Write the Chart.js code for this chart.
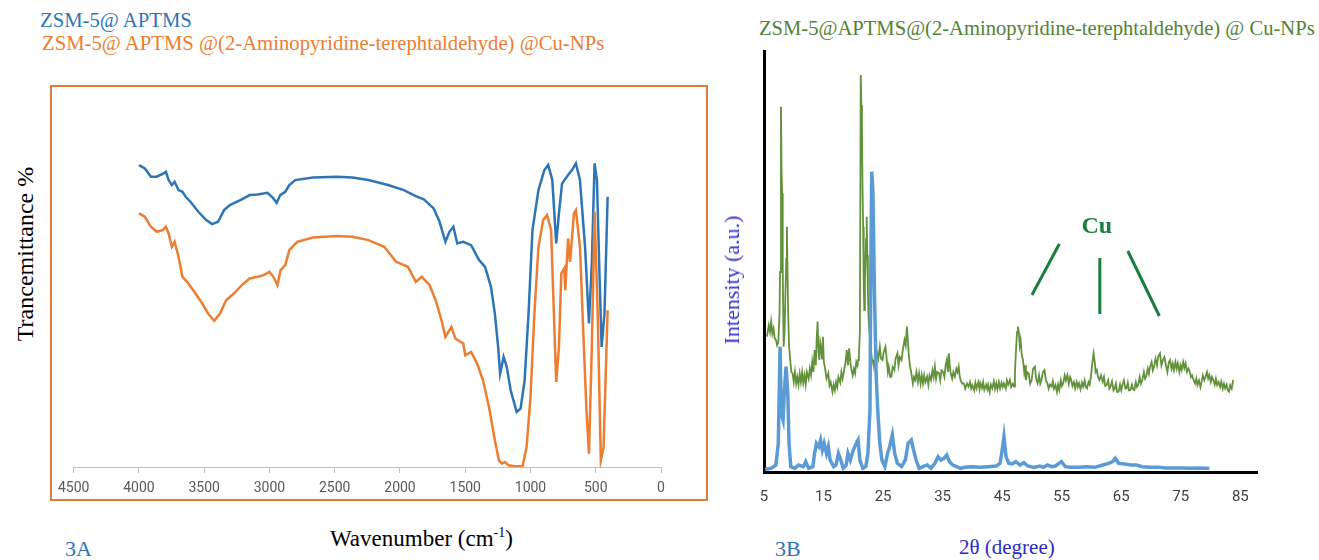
<!DOCTYPE html>
<html>
<head>
<meta charset="utf-8">
<script src="https://cdn.jsdelivr.net/npm/chart.js@4/dist/chart.umd.min.js"></script>
<style>
  body { margin: 0; width: 1319px; height: 560px; background: #fff; position: relative; overflow: hidden; font-family: 'Liberation Serif', 'Times New Roman', serif; }
  .t { position: absolute; white-space: nowrap; line-height: 1; }
  .rot { transform: translate(-50%, -50%) rotate(-90deg); }
  #boxA { position: absolute; left: 50px; top: 85px; width: 658px; height: 416px; border: 2px solid #E07B39; box-sizing: border-box; }
  canvas { position: absolute; }
</style>
</head>
<body>
<div id="boxA"></div>
<canvas id="ir" width="656" height="414" style="left:51px;top:86px"></canvas>
<canvas id="xrd" width="579" height="480" style="left:740px;top:40px"></canvas>

<div class="t" style="left:40px;top:10px;font-size:20.7px;color:#2E75B6">ZSM-5@ APTMS</div>
<div class="t" style="left:42px;top:33px;font-size:20.7px;color:#ED7D31">ZSM-5@ APTMS @(2-Aminopyridine-terephtaldehyde) @Cu-NPs</div>
<div class="t rot" style="left:25px;top:254px;font-size:24px;color:#000">Trancemittance %</div>
<div class="t" style="left:330px;top:526px;font-size:23px;color:#000">Wavenumber (cm<sup style="font-size:14px">-1</sup>)</div>
<div class="t" style="left:65px;top:538px;font-size:22px;color:#2E75B6">3A</div>

<div class="t" style="left:759px;top:18px;font-size:20.6px;color:#548235">ZSM-5@APTMS@(2-Aminopyridine-terephtaldehyde) @ Cu-NPs</div>
<div class="t rot" style="left:732px;top:280px;font-size:22px;color:#3333CC">Intensity (a.u.)</div>
<div class="t" style="left:959px;top:537px;font-size:21px;color:#2B2BC4">2θ (degree)</div>
<div class="t" style="left:775px;top:538px;font-size:22px;color:#2E75B6">3B</div>

<script>
// 3A  FT-IR, wavenumber (cm-1) and transmittance (arbitrary %)
const wnBlue = [4000, 3955, 3909, 3864, 3812, 3794, 3773, 3748, 3727, 3697, 3667, 3642, 3606, 3545, 3485, 3439, 3394, 3348, 3303, 3212,
  3152, 3091, 3015, 2970, 2945, 2918, 2879, 2848, 2803, 2667, 2485, 2364, 2242, 2091, 1970, 1879, 1818, 1742, 1697, 1652,
  1621, 1591, 1561, 1515, 1455, 1394, 1348, 1303, 1273, 1248, 1233, 1206, 1182, 1152, 1106, 1076, 1045, 1015, 985, 939,
  894, 864, 833, 803, 782, 758, 712, 682, 652, 621, 582, 552, 530, 509, 491, 470, 455, 433, 409];
const tBlue = [90.5, 89.5, 87.0, 87.0, 88.0, 88.5, 86.0, 84.5, 85.5, 83.0, 82.5, 81.0, 79.5, 76.5, 74.0, 72.8, 73.5, 77.0, 78.5, 80.2,
  81.5, 81.7, 82.2, 80.5, 79.2, 81.5, 82.5, 84.5, 86.0, 86.8, 87.0, 86.8, 86.0, 84.5, 83.0, 81.2, 80.2, 77.5, 73.5, 67.5,
  70.5, 72.0, 67.0, 67.5, 66.5, 62.0, 60.0, 54.0, 46.0, 36.0, 28.0, 33.0, 30.0, 23.0, 16.5, 17.5, 26.0, 46.0, 71.0, 83.0,
  89.0, 90.5, 86.0, 67.0, 76.0, 85.0, 87.5, 89.0, 91.0, 86.0, 66.0, 43.0, 61.0, 91.0, 86.0, 56.0, 36.0, 46.0, 81.0];

const wnOrange = [4000, 3955, 3909, 3864, 3818, 3794, 3773, 3748, 3727, 3697, 3667, 3621, 3576, 3515, 3470, 3424, 3379, 3333, 3273, 3212,
  3152, 3091, 3045, 3000, 2970, 2939, 2915, 2879, 2848, 2788, 2667, 2485, 2364, 2242, 2121, 2030, 1939, 1879, 1833, 1773,
  1727, 1682, 1652, 1606, 1576, 1515, 1500, 1455, 1409, 1364, 1318, 1273, 1242, 1218, 1197, 1167, 1121, 1061, 1030, 1000,
  970, 939, 903, 873, 842, 803, 782, 764, 742, 733, 712, 697, 667, 652, 621, 591, 570, 552, 530, 509,
  485, 461, 440, 409];
const tOrange = [76.0, 75.0, 72.0, 70.5, 71.0, 72.0, 70.0, 66.0, 67.5, 63.0, 57.0, 55.0, 52.5, 49.0, 46.0, 43.8, 46.0, 50.0, 52.0, 54.5,
  56.5, 57.0, 57.5, 58.5, 57.0, 54.5, 59.0, 60.5, 65.0, 67.5, 68.8, 69.2, 69.0, 68.0, 66.0, 61.5, 60.0, 55.5, 57.0, 54.5,
  50.0, 44.0, 39.0, 42.0, 38.5, 37.0, 33.5, 34.5, 31.0, 26.0, 18.0, 8.0, 2.0, 1.0, 1.5, 0.5, 0.2, 0.2, 6.0, 21.0,
  46.0, 66.0, 74.0, 75.5, 71.0, 25.5, 36.0, 58.0, 59.5, 53.0, 68.5, 61.5, 76.0, 77.0, 66.0, 36.0, 16.0, 4.0, 36.0, 76.5,
  46.0, 2.0, 6.0, 47.0];

const irTicks = [4500, 4000, 3500, 3000, 2500, 2000, 1500, 1000, 500, 0];

// 3B  XRD, 2-theta (degree) and intensity (a.u.)
const thetaGreen = [
  5.5, 5.8, 6.0, 6.2, 6.4, 6.6, 6.8, 7.0, 7.2, 7.4,
  7.6, 7.7, 7.85, 7.95, 8.05, 8.15, 8.3, 8.45, 8.6, 8.75,
  8.85, 8.95, 9.05, 9.2, 9.4, 9.6, 9.8, 10.0, 10.2, 10.4,
  10.6, 10.8, 11.0, 11.2, 11.4, 11.6, 11.8, 12.0, 12.2, 12.5,
  12.7, 12.9, 13.1, 13.3, 13.5, 13.7, 13.85, 14.0, 14.15, 14.3,
  14.45, 14.6, 14.75, 14.9, 15.05, 15.3, 15.5, 15.8, 16.0, 16.2,
  16.5, 16.7, 16.9, 17.1, 17.3, 17.5, 17.8, 18.0, 18.2, 18.5,
  18.7, 18.9, 19.1, 19.3, 19.5, 19.7, 19.9, 20.1, 20.3, 20.5,
  20.7, 20.8, 20.95, 21.1, 21.25, 21.35, 21.45, 21.55, 21.65, 21.75,
  21.85, 21.95, 22.05, 22.15, 22.25, 22.35, 22.45, 22.55, 22.65, 22.8,
  22.9, 23.0, 23.15, 23.3, 23.45, 23.6, 23.8, 24.0, 24.2, 24.45,
  24.65, 24.9, 25.1, 25.4, 25.6, 25.8, 25.95, 26.2, 26.4, 26.6,
  26.9, 27.1, 27.4, 27.6, 27.8, 28.1, 28.35, 28.6, 28.8, 29.0,
  29.15, 29.3, 29.5, 29.75, 30.0, 30.2, 30.4, 30.6, 30.85, 31.05,
  31.3, 31.5, 31.7, 31.9, 32.1, 32.4, 32.6, 32.8, 33.05, 33.3,
  33.5, 33.7, 33.9, 34.1, 34.4, 34.6, 34.8, 35.05, 35.3, 35.5,
  35.7, 35.9, 36.05, 36.2, 36.35, 36.6, 36.8, 37.05, 37.3, 37.5,
  37.7, 37.85, 38.0, 38.3, 38.55, 38.8, 39.1, 39.35, 39.6, 39.8,
  40.0, 40.3, 40.5, 40.7, 41.0, 41.2, 41.35, 41.6, 41.8, 42.0,
  42.3, 42.5, 42.65, 42.9, 43.1, 43.35, 43.6, 43.8, 44.0, 44.2,
  44.45, 44.65, 44.9, 45.1, 45.3, 45.6, 45.8, 46.0, 46.3, 46.5,
  46.8, 47.0, 47.15, 47.3, 47.5, 47.65, 47.8, 47.95, 48.1, 48.3,
  48.5, 48.7, 48.85, 49.0, 49.2, 49.45, 49.7, 49.95, 50.2, 50.5,
  50.7, 50.95, 51.2, 51.4, 51.6, 51.85, 52.1, 52.35, 52.6, 52.8,
  53.0, 53.3, 53.5, 53.7, 53.95, 54.2, 54.4, 54.6, 54.85, 55.05,
  55.25, 55.5, 55.7, 55.95, 56.2, 56.4, 56.6, 56.8, 57.05, 57.25,
  57.5, 57.7, 57.9, 58.15, 58.4, 58.6, 58.85, 59.05, 59.25, 59.5,
  59.7, 59.9, 60.1, 60.35, 60.55, 60.7, 60.9, 61.1, 61.35, 61.6,
  61.9, 62.1, 62.3, 62.55, 62.8, 63.0, 63.2, 63.45, 63.7, 63.9,
  64.1, 64.3, 64.55, 64.8, 65.0, 65.2, 65.45, 65.7, 65.9, 66.1,
  66.3, 66.55, 66.8, 67.0, 67.2, 67.45, 67.65, 67.85, 68.1, 68.3,
  68.55, 68.8, 69.0, 69.2, 69.45, 69.65, 69.85, 70.1, 70.3, 70.5,
  70.75, 71.0, 71.2, 71.5, 71.75, 72.0, 72.25, 72.5, 72.75, 73.0,
  73.2, 73.45, 73.65, 73.85, 74.1, 74.3, 74.5, 74.75, 74.95, 75.15,
  75.4, 75.6, 75.8, 76.05, 76.3, 76.5, 76.7, 76.9, 77.15, 77.4,
  77.6, 77.8, 78.05, 78.3, 78.5, 78.7, 78.95, 79.15, 79.4, 79.6,
  79.8, 80.05, 80.25, 80.45, 80.7, 80.9, 81.1, 81.35, 81.6, 81.8,
  82.05, 82.25, 82.45, 82.7, 82.9, 83.1, 83.3, 83.55, 83.8];
const iGreen = [
  406, 440, 420, 452, 415, 430, 400, 396, 380, 390,
  470, 600, 1096, 900, 836, 600, 376, 420, 536, 640,
  736, 600, 486, 380, 336, 300, 296, 270, 300, 265,
  285, 262, 295, 270, 300, 268, 290, 262, 300, 280,
  310, 290, 330, 300, 366, 320, 400, 451, 360, 336,
  390, 376, 340, 406, 330, 306, 280, 296, 260, 270,
  240, 262, 245, 270, 255, 285, 268, 300, 280, 310,
  330, 366, 320, 371, 330, 306, 290, 310, 296, 330,
  320, 336, 360, 416, 1191, 1100, 1036, 850, 736, 560,
  486, 580, 636, 700, 766, 650, 536, 470, 436, 400,
  386, 360, 336, 330, 316, 345, 330, 356, 340, 376,
  340, 336, 360, 376, 340, 300, 316, 285, 286, 315,
  306, 340, 356, 320, 345, 336, 370, 396, 380, 436,
  400, 356, 320, 296, 265, 285, 276, 300, 270, 296,
  265, 290, 266, 290, 270, 286, 262, 290, 276, 305,
  285, 316, 280, 300, 296, 275, 305, 301, 285, 320,
  336, 300, 356, 320, 296, 280, 300, 286, 310, 300,
  316, 290, 276, 265, 266, 250, 265, 256, 270, 250,
  261, 245, 268, 251, 270, 248, 266, 252, 270, 246,
  262, 248, 261, 240, 262, 251, 272, 250, 266, 248,
  270, 251, 268, 255, 266, 250, 275, 262, 276, 255,
  265, 256, 300, 356, 420, 436, 420, 380, 396, 350,
  336, 300, 320, 276, 300, 296, 265, 276, 310, 316,
  280, 266, 290, 265, 276, 300, 306, 275, 266, 250,
  262, 256, 272, 250, 261, 240, 262, 246, 275, 258,
  266, 290, 275, 291, 265, 285, 276, 258, 270, 251,
  270, 255, 266, 248, 268, 256, 275, 255, 251, 270,
  262, 286, 320, 356, 330, 300, 306, 285, 276, 290,
  271, 285, 258, 261, 275, 250, 256, 272, 245, 251,
  265, 240, 241, 262, 245, 261, 275, 250, 251, 268,
  245, 246, 262, 248, 246, 270, 255, 261, 285, 265,
  276, 300, 280, 286, 310, 295, 316, 330, 305, 316,
  340, 320, 346, 356, 320, 336, 345, 321, 300, 330,
  336, 310, 325, 306, 330, 310, 326, 300, 320, 306,
  330, 312, 326, 300, 310, 301, 285, 290, 276, 265,
  280, 261, 275, 255, 271, 290, 275, 286, 300, 280,
  291, 270, 285, 276, 262, 280, 261, 270, 255, 271,
  250, 265, 251, 262, 245, 241, 260, 250, 276];

const thetaBlue = [5.2, 6.2, 7.0, 7.4, 7.7, 7.9, 8.2, 8.4, 8.7, 9.0, 9.2, 9.5, 10.2, 10.8, 11.6, 12.0, 12.5, 13.2, 13.5, 13.8,
  14.2, 14.5, 14.8, 15.1, 15.5, 15.8, 16.1, 16.7, 17.1, 17.5, 17.9, 18.3, 18.8, 19.1, 19.5, 20.0, 20.5, 20.8, 21.1, 21.6,
  22.1, 22.45, 22.8, 22.95, 23.1, 23.3, 23.55, 23.85, 24.1, 24.45, 24.8, 25.3, 25.75, 26.1, 26.55, 26.95, 27.4, 28.1, 28.75, 29.2,
  29.75, 30.05, 30.55, 31.05, 31.7, 32.4, 33.05, 33.7, 34.25, 34.7, 35.25, 35.7, 36.15, 36.7, 37.35, 38.0, 38.7, 40.0, 41.35, 42.65,
  44.0, 44.65, 45.0, 45.3, 45.65, 46.1, 46.65, 47.3, 48.0, 48.65, 49.3, 50.3, 51.3, 51.95, 52.6, 53.3, 53.95, 54.95, 55.6, 56.6,
  57.9, 59.25, 60.55, 61.9, 62.9, 63.55, 64.0, 64.55, 65.55, 66.55, 67.55, 68.55, 69.85, 71.2, 72.5, 73.85, 75.15, 76.5, 77.8, 79.15,
  79.8];
const iBlue = [8, 11, 21, 86, 376, 176, 156, 236, 316, 236, 86, 16, 11, 21, 16, 31, 11, 16, 56, 86,
  76, 96, 66, 86, 56, 76, 36, 16, 21, 56, 36, 11, 21, 56, 36, 66, 86, 96, 36, 11,
  16, 56, 186, 636, 901, 836, 536, 286, 186, 86, 36, 16, 56, 76, 111, 56, 26, 16, 36, 86,
  96, 71, 36, 11, 16, 21, 11, 26, 46, 36, 41, 51, 31, 21, 16, 11, 14, 16, 14, 16,
  18, 26, 66, 106, 46, 26, 24, 31, 21, 28, 18, 14, 18, 14, 21, 16, 18, 31, 16, 14,
  14, 16, 14, 21, 26, 31, 41, 26, 24, 21, 21, 16, 14, 14, 12, 12, 12, 11, 12, 11,
  11];

const xrdTicks = [5, 15, 25, 35, 45, 55, 65, 75, 85];

// Cu marker lines [x1, y1, x2, y2] and label position, in data units
const cuLines = [[54.6, 684, 50.0, 531], [61.4, 642, 61.4, 474], [66.1, 663, 71.4, 468]];
const cuLabel = [60.9, 735];

const tickFont = "Roboto, 'Liberation Sans', sans-serif";

function pts(xs, ys) {
  return xs.map((x, i) => ({ x: x, y: ys[i] }));
}

new Chart(document.getElementById('ir'), {
  type: 'line',
  data: {
    datasets: [
      { data: pts(wnOrange, tOrange), borderColor: '#ED7D31', borderWidth: 2.5, pointRadius: 0, tension: 0 },
      { data: pts(wnBlue, tBlue), borderColor: '#2E75B6', borderWidth: 2.5, pointRadius: 0, tension: 0 }
    ]
  },
  options: {
    responsive: false,
    animation: false,
    layout: { padding: { left: 22, right: 46, top: 14, bottom: 0 } },
    plugins: { legend: { display: false }, tooltip: { enabled: false } },
    scales: {
      x: {
        type: 'linear', reverse: true, min: 0, max: 4500,
        afterBuildTicks: s => { s.ticks = irTicks.map(v => ({ value: v })); },
        afterFit: s => { s.height = 33; },
        grid: { drawOnChartArea: false, drawTicks: true, tickLength: 6, color: '#BFBFBF' },
        border: { color: '#BFBFBF', width: 1 },
        ticks: { color: '#595959', font: { family: tickFont, size: 14 }, padding: 7, maxRotation: 0, autoSkip: false,
          callback: v => String(v) }
      },
      y: { display: false, min: 0, max: 110 }
    }
  }
});

const cuPlugin = {
  id: 'cuMarks',
  afterDatasetsDraw(chart) {
    const { ctx, scales: { x, y } } = chart;
    ctx.save();
    ctx.strokeStyle = '#1D7D40';
    ctx.lineWidth = 3;
    cuLines.forEach(l => {
      ctx.beginPath();
      ctx.moveTo(x.getPixelForValue(l[0]), y.getPixelForValue(l[1]));
      ctx.lineTo(x.getPixelForValue(l[2]), y.getPixelForValue(l[3]));
      ctx.stroke();
    });
    ctx.fillStyle = '#1D7D40';
    ctx.font = "bold 24px 'Liberation Serif'";
    ctx.textAlign = 'center';
    ctx.textBaseline = 'middle';
    ctx.fillText('Cu', x.getPixelForValue(cuLabel[0]), y.getPixelForValue(cuLabel[1]));
    ctx.restore();
  }
};

new Chart(document.getElementById('xrd'), {
  type: 'line',
  data: {
    datasets: [
      { data: pts(thetaBlue, iBlue), borderColor: '#5B9BD5', borderWidth: 3.5, pointRadius: 0, tension: 0 },
      { data: pts(thetaGreen, iGreen), borderColor: '#62923B', borderWidth: 1.8, pointRadius: 0, tension: 0 }
    ]
  },
  options: {
    responsive: false,
    animation: false,
    layout: { padding: { left: 24, right: 62, top: 11, bottom: 0 } },
    plugins: { legend: { display: false }, tooltip: { enabled: false } },
    scales: {
      x: {
        type: 'linear', min: 5, max: 87.8,
        afterBuildTicks: s => { s.ticks = xrdTicks.map(v => ({ value: v })); },
        afterFit: s => { s.height = 48; },
        grid: { display: false, drawTicks: false },
        border: { color: '#000', width: 3 },
        ticks: { color: '#404040', font: { family: tickFont, size: 15 }, padding: 16, maxRotation: 0, autoSkip: false,
          callback: v => String(v) }
      },
      y: {
        min: 0, max: 1263,
        afterFit: s => { s.width = 0; },
        grid: { display: false, drawTicks: false },
        border: { color: '#000', width: 3 },
        ticks: { display: false }
      }
    }
  },
  plugins: [cuPlugin]
});
</script>
</body>
</html>
